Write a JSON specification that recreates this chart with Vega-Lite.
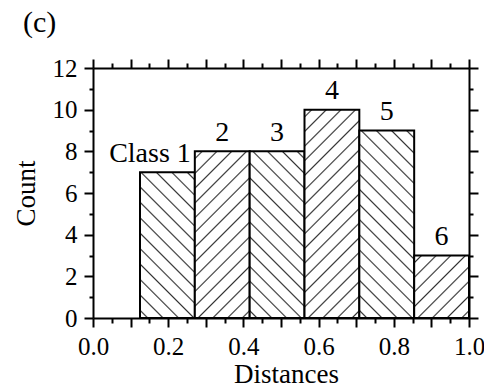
{
  "$schema": "https://vega.github.io/schema/vega-lite/v6.json",
  "autosize": {"type": "none"},
  "padding": {"left": 93, "top": 68, "right": 15, "bottom": 71},
  "width": 376,
  "height": 250,
  "background": "white",
  "title": {"text": "(c)", "anchor": "start", "frame": "group", "dx": -70, "offset": 18, "font": "Liberation Serif", "fontSize": 30, "fontWeight": "normal", "color": "black"},
  "config": {
    "view": {"stroke": null},
    "bar": {"stroke": "black", "strokeWidth": 2},
    "axis": {
      "domainColor": "black", "domainWidth": 2, "tickColor": "black", "tickWidth": 2,
      "labelFont": "Liberation Serif", "labelFontSize": 25, "labelColor": "black", "labelPadding": 7,
      "labelOverlap": false, "labelFlush": false, "grid": false,
      "titleFont": "Liberation Serif", "titleFontSize": 27, "titleFontWeight": "normal", "titleColor": "black"
    }
  },
  "data": {"values": [
    {"label": "Class 1", "start": 0.125, "end": 0.2708, "mid": 0.1979, "count": 7},
    {"label": "2", "start": 0.2708, "end": 0.4167, "mid": 0.3438, "count": 8},
    {"label": "3", "start": 0.4167, "end": 0.5625, "mid": 0.4896, "count": 8},
    {"label": "4", "start": 0.5625, "end": 0.7083, "mid": 0.6354, "count": 10},
    {"label": "5", "start": 0.7083, "end": 0.8542, "mid": 0.7813, "count": 9},
    {"label": "6", "start": 0.8542, "end": 1.0, "mid": 0.9271, "count": 3}
  ]},
  "layer": [
    {
      "transform": [{"filter": "datum.label == 'Class 1'"}],
      "mark": {"type": "bar", "fill": {"gradient": "linear", "x1": 0, "y1": 1, "x2": 0.4533, "y2": -0.2056, "stops": [
                {"offset": 0, "color": "white"},
                {"offset": 0.0305, "color": "white"}, {"offset": 0.0385, "color": "#333"}, {"offset": 0.0465, "color": "white"},
                {"offset": 0.1074, "color": "white"}, {"offset": 0.1154, "color": "#333"}, {"offset": 0.1234, "color": "white"},
                {"offset": 0.1843, "color": "white"}, {"offset": 0.1923, "color": "#333"}, {"offset": 0.2003, "color": "white"},
                {"offset": 0.2612, "color": "white"}, {"offset": 0.2692, "color": "#333"}, {"offset": 0.2772, "color": "white"},
                {"offset": 0.3382, "color": "white"}, {"offset": 0.3462, "color": "#333"}, {"offset": 0.3542, "color": "white"},
                {"offset": 0.4151, "color": "white"}, {"offset": 0.4231, "color": "#333"}, {"offset": 0.4311, "color": "white"},
                {"offset": 0.4920, "color": "white"}, {"offset": 0.5, "color": "#333"}, {"offset": 0.5080, "color": "white"},
                {"offset": 0.5689, "color": "white"}, {"offset": 0.5769, "color": "#333"}, {"offset": 0.5849, "color": "white"},
                {"offset": 0.6458, "color": "white"}, {"offset": 0.6538, "color": "#333"}, {"offset": 0.6618, "color": "white"},
                {"offset": 0.7228, "color": "white"}, {"offset": 0.7308, "color": "#333"}, {"offset": 0.7388, "color": "white"},
                {"offset": 0.7997, "color": "white"}, {"offset": 0.8077, "color": "#333"}, {"offset": 0.8157, "color": "white"},
                {"offset": 0.8766, "color": "white"}, {"offset": 0.8846, "color": "#333"}, {"offset": 0.8926, "color": "white"},
                {"offset": 0.9535, "color": "white"}, {"offset": 0.9615, "color": "#333"}, {"offset": 0.9695, "color": "white"},
                {"offset": 1, "color": "white"}]}},
      "encoding": {
        "x": {"field": "start", "type": "quantitative", "scale": {"domain": [0, 1], "nice": false},
          "axis": {"orient": "bottom", "title": "Distances", "titlePadding": 2, "titleX": 193,
            "values": [0, 0.05, 0.1, 0.15, 0.2, 0.25, 0.3, 0.35, 0.4, 0.45, 0.5, 0.55, 0.6, 0.65, 0.7, 0.75, 0.8, 0.85, 0.9, 0.95, 1],
            "labelExpr": "abs(datum.value*5 - round(datum.value*5)) < 0.001 ? format(datum.value, '.1f') : ''",
            "tickSize": {"condition": {"test": "abs(datum.value*10 - round(datum.value*10)) < 0.001", "value": 9}, "value": 5}}},
        "x2": {"field": "end"},
        "y": {"field": "count", "type": "quantitative", "scale": {"domain": [0, 12], "nice": false},
          "axis": {"orient": "left", "title": "Count", "titlePadding": 12,
            "values": [0, 1, 2, 3, 4, 5, 6, 7, 8, 9, 10, 11, 12],
            "labelExpr": "datum.value % 2 == 0 ? datum.label : ''",
            "tickSize": {"condition": {"test": "datum.value % 2 == 0", "value": 9}, "value": 4}}},
        "y2": {"datum": 0}
      }
    },
    {
      "transform": [{"filter": "datum.label == '2'"}],
      "mark": {"type": "bar", "fill": {"gradient": "linear", "x1": 0, "y1": 0, "x2": 0.3945, "y2": 1.1992, "stops": [
                {"offset": 0, "color": "white"},
                {"offset": 0.0261, "color": "white"}, {"offset": 0.0333, "color": "#333"}, {"offset": 0.0405, "color": "white"},
                {"offset": 0.0928, "color": "white"}, {"offset": 0.1, "color": "#333"}, {"offset": 0.1072, "color": "white"},
                {"offset": 0.1595, "color": "white"}, {"offset": 0.1667, "color": "#333"}, {"offset": 0.1739, "color": "white"},
                {"offset": 0.2261, "color": "white"}, {"offset": 0.2333, "color": "#333"}, {"offset": 0.2405, "color": "white"},
                {"offset": 0.2928, "color": "white"}, {"offset": 0.3, "color": "#333"}, {"offset": 0.3072, "color": "white"},
                {"offset": 0.3595, "color": "white"}, {"offset": 0.3667, "color": "#333"}, {"offset": 0.3739, "color": "white"},
                {"offset": 0.4261, "color": "white"}, {"offset": 0.4333, "color": "#333"}, {"offset": 0.4405, "color": "white"},
                {"offset": 0.4928, "color": "white"}, {"offset": 0.5, "color": "#333"}, {"offset": 0.5072, "color": "white"},
                {"offset": 0.5595, "color": "white"}, {"offset": 0.5667, "color": "#333"}, {"offset": 0.5739, "color": "white"},
                {"offset": 0.6261, "color": "white"}, {"offset": 0.6333, "color": "#333"}, {"offset": 0.6405, "color": "white"},
                {"offset": 0.6928, "color": "white"}, {"offset": 0.7, "color": "#333"}, {"offset": 0.7072, "color": "white"},
                {"offset": 0.7595, "color": "white"}, {"offset": 0.7667, "color": "#333"}, {"offset": 0.7739, "color": "white"},
                {"offset": 0.8261, "color": "white"}, {"offset": 0.8333, "color": "#333"}, {"offset": 0.8405, "color": "white"},
                {"offset": 0.8928, "color": "white"}, {"offset": 0.9, "color": "#333"}, {"offset": 0.9072, "color": "white"},
                {"offset": 0.9595, "color": "white"}, {"offset": 0.9667, "color": "#333"}, {"offset": 0.9739, "color": "white"},
                {"offset": 1, "color": "white"}]}},
      "encoding": {
        "x": {"field": "start", "type": "quantitative", "scale": {"domain": [0, 1], "nice": false}, "axis": null},
        "x2": {"field": "end"},
        "y": {"field": "count", "type": "quantitative", "scale": {"domain": [0, 12], "nice": false}, "axis": null},
        "y2": {"datum": 0}
      }
    },
    {
      "transform": [{"filter": "datum.label == '3'"}],
      "mark": {"type": "bar", "fill": {"gradient": "linear", "x1": 0, "y1": 1, "x2": 0.3945, "y2": -0.1992, "stops": [
                {"offset": 0, "color": "white"},
                {"offset": 0.0261, "color": "white"}, {"offset": 0.0333, "color": "#333"}, {"offset": 0.0405, "color": "white"},
                {"offset": 0.0928, "color": "white"}, {"offset": 0.1, "color": "#333"}, {"offset": 0.1072, "color": "white"},
                {"offset": 0.1595, "color": "white"}, {"offset": 0.1667, "color": "#333"}, {"offset": 0.1739, "color": "white"},
                {"offset": 0.2261, "color": "white"}, {"offset": 0.2333, "color": "#333"}, {"offset": 0.2405, "color": "white"},
                {"offset": 0.2928, "color": "white"}, {"offset": 0.3, "color": "#333"}, {"offset": 0.3072, "color": "white"},
                {"offset": 0.3595, "color": "white"}, {"offset": 0.3667, "color": "#333"}, {"offset": 0.3739, "color": "white"},
                {"offset": 0.4261, "color": "white"}, {"offset": 0.4333, "color": "#333"}, {"offset": 0.4405, "color": "white"},
                {"offset": 0.4928, "color": "white"}, {"offset": 0.5, "color": "#333"}, {"offset": 0.5072, "color": "white"},
                {"offset": 0.5595, "color": "white"}, {"offset": 0.5667, "color": "#333"}, {"offset": 0.5739, "color": "white"},
                {"offset": 0.6261, "color": "white"}, {"offset": 0.6333, "color": "#333"}, {"offset": 0.6405, "color": "white"},
                {"offset": 0.6928, "color": "white"}, {"offset": 0.7, "color": "#333"}, {"offset": 0.7072, "color": "white"},
                {"offset": 0.7595, "color": "white"}, {"offset": 0.7667, "color": "#333"}, {"offset": 0.7739, "color": "white"},
                {"offset": 0.8261, "color": "white"}, {"offset": 0.8333, "color": "#333"}, {"offset": 0.8405, "color": "white"},
                {"offset": 0.8928, "color": "white"}, {"offset": 0.9, "color": "#333"}, {"offset": 0.9072, "color": "white"},
                {"offset": 0.9595, "color": "white"}, {"offset": 0.9667, "color": "#333"}, {"offset": 0.9739, "color": "white"},
                {"offset": 1, "color": "white"}]}},
      "encoding": {
        "x": {"field": "start", "type": "quantitative", "scale": {"domain": [0, 1], "nice": false}, "axis": null},
        "x2": {"field": "end"},
        "y": {"field": "count", "type": "quantitative", "scale": {"domain": [0, 12], "nice": false}, "axis": null},
        "y2": {"datum": 0}
      }
    },
    {
      "transform": [{"filter": "datum.label == '4'"}],
      "mark": {"type": "bar", "fill": {"gradient": "linear", "x1": 0, "y1": 0, "x2": 0.3109, "y2": 1.1814, "stops": [
                {"offset": 0, "color": "white"},
                {"offset": 0.0217, "color": "white"}, {"offset": 0.0278, "color": "#333"}, {"offset": 0.0339, "color": "white"},
                {"offset": 0.0772, "color": "white"}, {"offset": 0.0833, "color": "#333"}, {"offset": 0.0894, "color": "white"},
                {"offset": 0.1328, "color": "white"}, {"offset": 0.1389, "color": "#333"}, {"offset": 0.1450, "color": "white"},
                {"offset": 0.1883, "color": "white"}, {"offset": 0.1944, "color": "#333"}, {"offset": 0.2005, "color": "white"},
                {"offset": 0.2439, "color": "white"}, {"offset": 0.25, "color": "#333"}, {"offset": 0.2561, "color": "white"},
                {"offset": 0.2995, "color": "white"}, {"offset": 0.3056, "color": "#333"}, {"offset": 0.3117, "color": "white"},
                {"offset": 0.3550, "color": "white"}, {"offset": 0.3611, "color": "#333"}, {"offset": 0.3672, "color": "white"},
                {"offset": 0.4106, "color": "white"}, {"offset": 0.4167, "color": "#333"}, {"offset": 0.4228, "color": "white"},
                {"offset": 0.4661, "color": "white"}, {"offset": 0.4722, "color": "#333"}, {"offset": 0.4783, "color": "white"},
                {"offset": 0.5217, "color": "white"}, {"offset": 0.5278, "color": "#333"}, {"offset": 0.5339, "color": "white"},
                {"offset": 0.5772, "color": "white"}, {"offset": 0.5833, "color": "#333"}, {"offset": 0.5894, "color": "white"},
                {"offset": 0.6328, "color": "white"}, {"offset": 0.6389, "color": "#333"}, {"offset": 0.6450, "color": "white"},
                {"offset": 0.6883, "color": "white"}, {"offset": 0.6944, "color": "#333"}, {"offset": 0.7005, "color": "white"},
                {"offset": 0.7439, "color": "white"}, {"offset": 0.75, "color": "#333"}, {"offset": 0.7561, "color": "white"},
                {"offset": 0.7995, "color": "white"}, {"offset": 0.8056, "color": "#333"}, {"offset": 0.8117, "color": "white"},
                {"offset": 0.8550, "color": "white"}, {"offset": 0.8611, "color": "#333"}, {"offset": 0.8672, "color": "white"},
                {"offset": 0.9106, "color": "white"}, {"offset": 0.9167, "color": "#333"}, {"offset": 0.9228, "color": "white"},
                {"offset": 0.9661, "color": "white"}, {"offset": 0.9722, "color": "#333"}, {"offset": 0.9783, "color": "white"},
                {"offset": 1, "color": "white"}]}},
      "encoding": {
        "x": {"field": "start", "type": "quantitative", "scale": {"domain": [0, 1], "nice": false}, "axis": null},
        "x2": {"field": "end"},
        "y": {"field": "count", "type": "quantitative", "scale": {"domain": [0, 12], "nice": false}, "axis": null},
        "y2": {"datum": 0}
      }
    },
    {
      "transform": [{"filter": "datum.label == '5'"}],
      "mark": {"type": "bar", "fill": {"gradient": "linear", "x1": 0, "y1": 1, "x2": 0.3482, "y2": -0.1906, "stops": [
                {"offset": 0, "color": "white"},
                {"offset": 0.0247, "color": "white"}, {"offset": 0.0313, "color": "#333"}, {"offset": 0.0379, "color": "white"},
                {"offset": 0.0872, "color": "white"}, {"offset": 0.0938, "color": "#333"}, {"offset": 0.1004, "color": "white"},
                {"offset": 0.1497, "color": "white"}, {"offset": 0.1563, "color": "#333"}, {"offset": 0.1629, "color": "white"},
                {"offset": 0.2122, "color": "white"}, {"offset": 0.2188, "color": "#333"}, {"offset": 0.2254, "color": "white"},
                {"offset": 0.2747, "color": "white"}, {"offset": 0.2813, "color": "#333"}, {"offset": 0.2879, "color": "white"},
                {"offset": 0.3372, "color": "white"}, {"offset": 0.3438, "color": "#333"}, {"offset": 0.3504, "color": "white"},
                {"offset": 0.3997, "color": "white"}, {"offset": 0.4063, "color": "#333"}, {"offset": 0.4129, "color": "white"},
                {"offset": 0.4622, "color": "white"}, {"offset": 0.4688, "color": "#333"}, {"offset": 0.4754, "color": "white"},
                {"offset": 0.5247, "color": "white"}, {"offset": 0.5313, "color": "#333"}, {"offset": 0.5379, "color": "white"},
                {"offset": 0.5872, "color": "white"}, {"offset": 0.5938, "color": "#333"}, {"offset": 0.6004, "color": "white"},
                {"offset": 0.6497, "color": "white"}, {"offset": 0.6563, "color": "#333"}, {"offset": 0.6629, "color": "white"},
                {"offset": 0.7122, "color": "white"}, {"offset": 0.7188, "color": "#333"}, {"offset": 0.7254, "color": "white"},
                {"offset": 0.7747, "color": "white"}, {"offset": 0.7813, "color": "#333"}, {"offset": 0.7879, "color": "white"},
                {"offset": 0.8372, "color": "white"}, {"offset": 0.8438, "color": "#333"}, {"offset": 0.8504, "color": "white"},
                {"offset": 0.8997, "color": "white"}, {"offset": 0.9063, "color": "#333"}, {"offset": 0.9129, "color": "white"},
                {"offset": 0.9622, "color": "white"}, {"offset": 0.9688, "color": "#333"}, {"offset": 0.9754, "color": "white"},
                {"offset": 1, "color": "white"}]}},
      "encoding": {
        "x": {"field": "start", "type": "quantitative", "scale": {"domain": [0, 1], "nice": false}, "axis": null},
        "x2": {"field": "end"},
        "y": {"field": "count", "type": "quantitative", "scale": {"domain": [0, 12], "nice": false}, "axis": null},
        "y2": {"datum": 0}
      }
    },
    {
      "transform": [{"filter": "datum.label == '6'"}],
      "mark": {"type": "bar", "fill": {"gradient": "linear", "x1": 0, "y1": 0, "x2": 0.9307, "y2": 1.0609, "stops": [
                {"offset": 0, "color": "white"},
                {"offset": 0.0489, "color": "white"}, {"offset": 0.0625, "color": "#333"}, {"offset": 0.0761, "color": "white"},
                {"offset": 0.1739, "color": "white"}, {"offset": 0.1875, "color": "#333"}, {"offset": 0.2011, "color": "white"},
                {"offset": 0.2989, "color": "white"}, {"offset": 0.3125, "color": "#333"}, {"offset": 0.3261, "color": "white"},
                {"offset": 0.4239, "color": "white"}, {"offset": 0.4375, "color": "#333"}, {"offset": 0.4511, "color": "white"},
                {"offset": 0.5489, "color": "white"}, {"offset": 0.5625, "color": "#333"}, {"offset": 0.5761, "color": "white"},
                {"offset": 0.6739, "color": "white"}, {"offset": 0.6875, "color": "#333"}, {"offset": 0.7011, "color": "white"},
                {"offset": 0.7989, "color": "white"}, {"offset": 0.8125, "color": "#333"}, {"offset": 0.8261, "color": "white"},
                {"offset": 0.9239, "color": "white"}, {"offset": 0.9375, "color": "#333"}, {"offset": 0.9511, "color": "white"},
                {"offset": 1, "color": "white"}]}},
      "encoding": {
        "x": {"field": "start", "type": "quantitative", "scale": {"domain": [0, 1], "nice": false}, "axis": null},
        "x2": {"field": "end"},
        "y": {"field": "count", "type": "quantitative", "scale": {"domain": [0, 12], "nice": false}, "axis": null},
        "y2": {"datum": 0}
      }
    },
    {
      "transform": [{"filter": "datum.label != 'Class 1'"}],
      "mark": {"type": "text", "baseline": "alphabetic", "align": "center", "dy": -10.5, "font": "Liberation Serif", "fontSize": 28, "color": "black"},
      "encoding": {
        "x": {"field": "mid", "type": "quantitative", "scale": {"domain": [0, 1], "nice": false},
          "axis": {"orient": "top", "title": null, "labels": false,
            "values": [0, 0.05, 0.1, 0.15, 0.2, 0.25, 0.3, 0.35, 0.4, 0.45, 0.5, 0.55, 0.6, 0.65, 0.7, 0.75, 0.8, 0.85, 0.9, 0.95, 1],
            "tickSize": {"condition": {"test": "abs(datum.value*10 - round(datum.value*10)) < 0.001", "value": 9}, "value": 5}}},
        "y": {"field": "count", "type": "quantitative", "scale": {"domain": [0, 12], "nice": false},
          "axis": {"orient": "right", "title": null, "labels": false,
            "values": [0, 1, 2, 3, 4, 5, 6, 7, 8, 9, 10, 11, 12],
            "tickSize": {"condition": {"test": "datum.value % 2 == 0", "value": 9}, "value": 4}}},
        "text": {"field": "label"}
      }
    },
    {
      "transform": [{"filter": "datum.label == 'Class 1'"}],
      "mark": {"type": "text", "baseline": "alphabetic", "align": "right", "dx": -4, "dy": -10.5, "font": "Liberation Serif", "fontSize": 28, "color": "black"},
      "encoding": {
        "x": {"field": "end", "type": "quantitative", "scale": {"domain": [0, 1], "nice": false}, "axis": null},
        "y": {"field": "count", "type": "quantitative", "scale": {"domain": [0, 12], "nice": false}, "axis": null},
        "text": {"field": "label"}
      }
    }
  ],
  "resolve": {"axis": {"x": "independent", "y": "independent"}}
}
